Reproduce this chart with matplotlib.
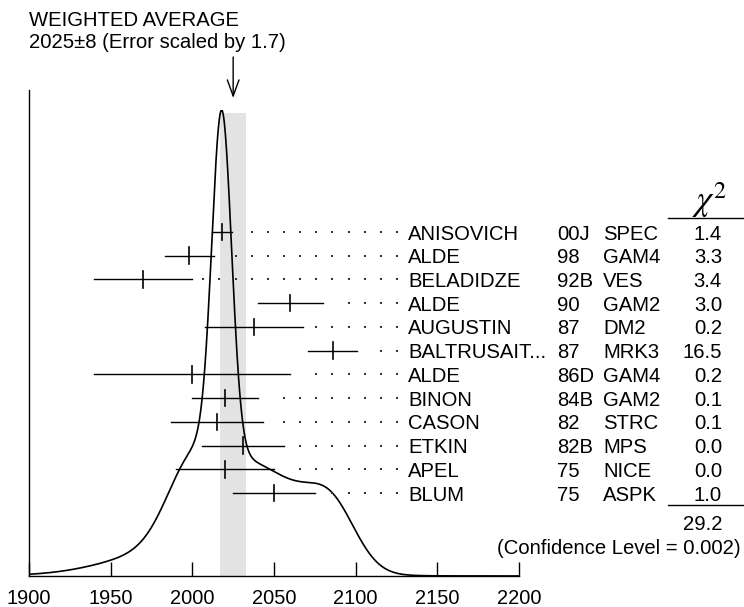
import numpy as np
import matplotlib.pyplot as plt
import matplotlib.transforms as mtransforms

plt.rcParams['font.family'] = ['Liberation Sans', 'DejaVu Sans']
plt.rcParams['mathtext.fontset'] = 'stix'

# Datos de las medidas
names = ['ANISOVICH', 'ALDE', 'BELADIDZE', 'ALDE', 'AUGUSTIN', 'BALTRUSAIT...',
         'ALDE', 'BINON', 'CASON', 'ETKIN', 'APEL', 'BLUM']
years = ['00J', '98', '92B', '90', '87', '87', '86D', '84B', '82', '82B', '75', '75']
techs = ['SPEC', 'GAM4', 'VES', 'GAM2', 'DM2', 'MRK3', 'GAM4', 'GAM2', 'STRC', 'MPS', 'NICE', 'ASPK']
values = [2018, 1998, 1970, 2060, 2038, 2086, 2000, 2020, 2015, 2031, 2020, 2050]
errors = [6, 15, 30, 20, 30, 15, 60, 20, 28, 25, 30, 25]
chi2 = [1.4, 3.3, 3.4, 3.0, 0.2, 16.5, 0.2, 0.1, 0.1, 0.0, 0.0, 1.0]
avg, avg_err, err_scale = 2025, 8, 1.7
conf_level = 0.002
xticks = [1900, 1950, 2000, 2050, 2100, 2150, 2200]

W, H = 744, 607
fig = plt.figure(figsize=(W / 100, H / 100), dpi=100)
# ejes: base en y=576 px, pico en y=110 px
ax = fig.add_axes([29 / W, (H - 576) / H, 490 / W, 466 / H])
ax.set_xlim(1900, 2200)
ax.set_ylim(0, 1)
for s in ['top', 'right', 'left']:
    ax.spines[s].set_visible(False)
ax.spines['bottom'].set_linewidth(1.0)
ax.set_yticks([])
ax.set_xticks(xticks)
ax.tick_params(axis='x', direction='in', length=10, width=1.0, pad=9, labelsize=14.4)

px = 1 / 466.0  # un pixel en unidades del eje y

# eje vertical izquierdo
ax.plot([1900, 1900], [0, (576 - 90) * px], color='black', lw=1.0, clip_on=False)

# banda del promedio
ax.axvspan(avg - avg_err, avg + avg_err, ymin=0, ymax=(576 - 113) * px,
           color='#e3e3e3', lw=0, zorder=0)

# ideograma
vals = np.array(values, float)
errs = np.array(errors, float)
xs = np.linspace(1900, 2200, 1500)
ideo = np.zeros_like(xs)
for v, e in zip(vals, errs):
    ideo += np.exp(-0.5 * ((xs - v) / e) ** 2) / e ** 2
ideo /= ideo.max()
ax.plot(xs, ideo, color='black', lw=1.2)

# filas
row_top = (576 - 232) * px
row_step = 23.73 * px
rows = [row_top - i * row_step for i in range(len(names))]
half = 8.3 * px
dot_grid = 2125.3 - 9.886 * np.arange(0, 25)

for y, v, e in zip(rows, values, errors):
    ax.plot([v - e, v + e], [y, y], color='black', lw=1.0)
    ax.plot([v, v], [y - half, y + half], color='black', lw=1.2)
    d = dot_grid[dot_grid >= v + e + 6.5]
    ax.plot(d, [y] * len(d), ls='none', marker='s', ms=1.5, mew=0, color='#333333')

tr = mtransforms.blended_transform_factory(fig.transFigure, ax.transData)
fs = 14.6
for y, n, yr, t, c in zip(rows, names, years, techs, chi2):
    ax.text(408 / W, y, n, transform=tr, fontsize=fs, va='center_baseline', ha='left')
    ax.text(557 / W, y, yr, transform=tr, fontsize=fs, va='center_baseline', ha='left')
    ax.text(603 / W, y, t, transform=tr, fontsize=fs, va='center_baseline', ha='left')
    ax.text(722 / W, y, '%.1f' % c, transform=tr, fontsize=fs, va='center_baseline', ha='right')

# cabecera chi2
fig.text(692 / W, 1 - 211 / H, r'$\chi^{2}$', fontsize=25, va='baseline', ha='left')
fig.add_artist(plt.Line2D([668 / W, 1.0], [1 - 218 / H, 1 - 218 / H], color='black', lw=1.0))
fig.add_artist(plt.Line2D([668 / W, 1.0], [1 - 505 / H, 1 - 505 / H], color='black', lw=1.0))
fig.text(722 / W, 1 - 523 / H, '%.1f' % sum(chi2), fontsize=fs, va='center_baseline', ha='right')
fig.text(741 / W, 1 - 547 / H, '(Confidence Level = %g)' % conf_level, fontsize=fs,
         va='center_baseline', ha='right')

# titulo y flecha
fig.text(29 / W, 1 - 19 / H, 'WEIGHTED AVERAGE', fontsize=fs, va='center_baseline', ha='left')
fig.text(29 / W, 1 - 40 / H, '%d±%d (Error scaled by %.1f)' % (avg, avg_err, err_scale),
         fontsize=fs, va='center_baseline', ha='left')
ax.annotate('', xy=(avg, (576 - 98) * px), xytext=(avg, (576 - 57) * px),
            arrowprops=dict(arrowstyle='->, head_length=0.55, head_width=0.2',
                            lw=1.0, color='black', shrinkA=0, shrinkB=0, mutation_scale=21),
            annotation_clip=False)

fig.savefig('out.png', dpi=100)
